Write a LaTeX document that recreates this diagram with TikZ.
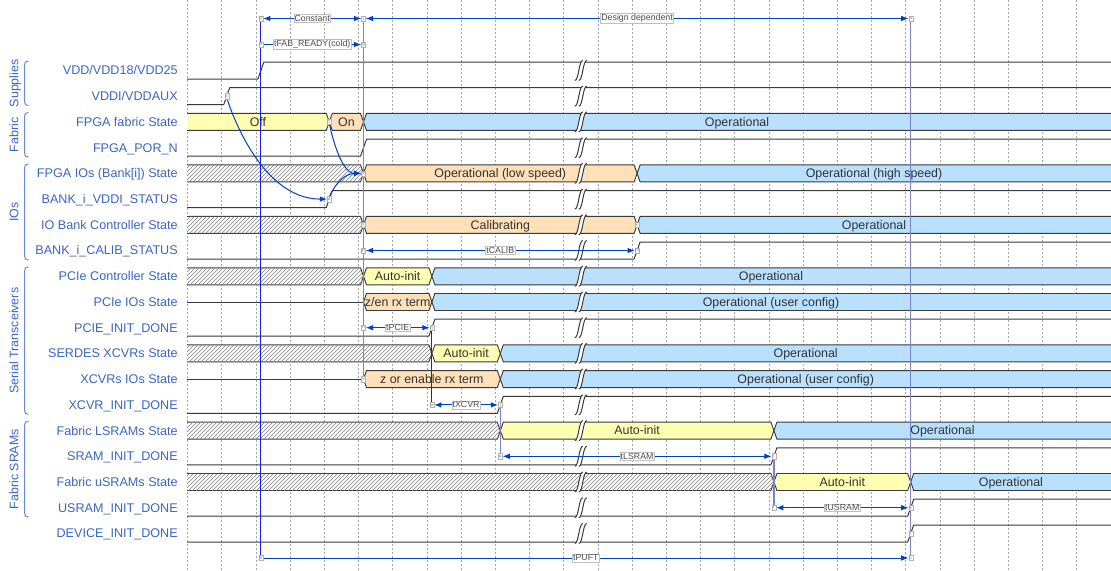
\documentclass[tikz,border=0pt]{standalone}
\usepackage{fontspec}
\setmainfont{Liberation Sans}
\usetikzlibrary{arrows.meta,patterns}
\definecolor{wdyel}{HTML}{FFFFB4}
\definecolor{wdorg}{HTML}{FFE0B9}
\definecolor{wdblu}{HTML}{B9E0FF}
\definecolor{wdline}{HTML}{3A3A3A}
\definecolor{lblblue}{HTML}{3A66C4}
\definecolor{edgeblue}{HTML}{0041C4}
\definecolor{vlav}{HTML}{7F80C6}
\definecolor{vblue}{HTML}{1A1AF0}
\pgfdeclarelayer{gridlayer}
\pgfdeclarelayer{wavelayer}
\pgfdeclarelayer{edgelayer}
\pgfsetlayers{gridlayer,wavelayer,edgelayer,main}
\newcommand\wdseg[4]{\path[#4] (#1,#3) -- (#1+3,#3-8.5) -- (#2-3,#3-8.5) -- (#2,#3) -- (#2-3,#3+8.5) -- (#1+3,#3+8.5) -- cycle;}
\newcommand\wdrise[2]{\draw[sig] (180,#2+8.5) -- (#1-3,#2+8.5) -- (#1+3,#2-8.5) -- (1120,#2-8.5);}
\newcommand\wdzline[2]{\draw[sig] (180,#2) -- (#1,#2);}
\newcommand\wdgap[1]{%
  \fill[white] (574.8,#1+10) .. controls (578.8,#1+10) and (578.8,#1-10) .. (582.8,#1-10) -- (586.8,#1-10) .. controls (582.8,#1-10) and (582.8,#1+10) .. (578.8,#1+10) -- cycle;
  \draw[sig] (574.8,#1+10) .. controls (578.8,#1+10) and (578.8,#1-10) .. (582.8,#1-10);
  \draw[sig] (578.8,#1+10) .. controls (582.8,#1+10) and (582.8,#1-10) .. (586.8,#1-10);}
\newcommand\wdtxt[4]{\node[btxt] (#1) at (#2,#3+4.3) {#4};}
\newcommand\wdlab[3]{\node[rlab] (#1) at (178,#2+4.4) {#3};}
\newcommand\wdgrp[4]{%
  \draw[brk] (28.5,#2) .. controls (26,#2) and (24.5,#2+1.5) .. (24.5,#2+4) -- (24.5,#3-4) .. controls (24.5,#3-1.5) and (26,#3) .. (28.5,#3);
  \node[glab] (#1) at (18.5,#2/2+#3/2) {#4};}
\begin{document}
\begin{tikzpicture}[x=0.75pt,y=-0.75pt,
  >={Latex[length=5.5pt,width=4.2pt]},
  sig/.style={draw=wdline,line width=0.75pt,line join=round},
  yb/.style={fill=wdyel,draw=wdline,line width=0.7pt},
  ob/.style={fill=wdorg,draw=wdline,line width=0.7pt},
  bb/.style={fill=wdblu,draw=wdline,line width=0.7pt},
  hb/.style={fill=white,postaction={pattern=north east lines,pattern color=black!50},draw=wdline,line width=0.7pt},
  btxt/.style={anchor=base,inner sep=0pt,text=black!80,font=\fontsize{9.3}{11}\selectfont},
  rlab/.style={anchor=base east,inner sep=0pt,text=lblblue,font=\fontsize{9.45}{11}\selectfont},
  glab/.style={anchor=base,rotate=90,inner sep=0pt,text=lblblue,font=\fontsize{9.3}{11}\selectfont},
  brk/.style={draw=lblblue!75,line width=0.75pt},
  gridl/.style={draw=black!35,line width=0.5pt,dash pattern=on 1.5pt off 1.5pt},
  mk/.style={draw=black!30,fill=white,line width=0.3pt,inner sep=0.2pt,minimum width=3pt,minimum height=4pt,text=black!55,font=\fontsize{3.2}{3.2}\selectfont},
  lab/.style={fill=white,draw=black!25,line width=0.3pt,inner sep=0.6pt,text=black!70,font=\fontsize{6.6}{7}\selectfont},
  edge/.style={draw=edgeblue,line width=0.75pt},
  vl/.style={draw=vlav,line width=0.9pt},
  vb/.style={draw=vblue,line width=0.75pt}]
\useasboundingbox (0,0) rectangle (1111,571);
\begin{pgfonlayer}{gridlayer}
\fill[white] (0,0) rectangle (1111,571);
\foreach \k in {0,...,26} \draw[gridl] ({187.5+34.2*\k},0) -- ({187.5+34.2*\k},571);
\end{pgfonlayer}
\begin{pgfonlayer}{wavelayer}
\begin{scope}
\clip (187,0) rectangle (1111,571);
% row 0 VDD
\wdrise{260.9}{70.5}
% row 1 VDDI
\wdrise{226.7}{96.2}
% row 2 fabric state
\wdseg{180}{329.3}{121.9}{yb}
\wdseg{329.3}{363.5}{121.9}{ob}
\wdseg{363.5}{1120}{121.9}{bb}
% row 3 POR
\wdrise{363.5}{147.7}
% row 4 FPGA IOs
\wdseg{180}{363.5}{173.4}{hb}
\wdseg{363.5}{637.1}{173.4}{ob}
\wdseg{637.1}{1120}{173.4}{bb}
% row 5 VDDI status
\wdrise{329.3}{199.1}
% row 6 IO bank
\wdseg{180}{363.5}{224.8}{hb}
\wdseg{363.5}{637.1}{224.8}{ob}
\wdseg{637.1}{1120}{224.8}{bb}
% row 7 calib status
\wdrise{637.1}{250.5}
% row 8 PCIe ctrl
\wdseg{180}{363.5}{276.3}{hb}
\wdseg{363.5}{431.9}{276.3}{yb}
\wdseg{431.9}{1120}{276.3}{bb}
% row 9 PCIe IOs
\wdzline{363.5}{302.0}
\wdseg{363.5}{431.9}{302.0}{ob}
\wdseg{431.9}{1120}{302.0}{bb}
% row 10 PCIE_INIT_DONE
\wdrise{431.9}{327.7}
% row 11 SERDES
\wdseg{180}{431.9}{353.4}{hb}
\wdseg{431.9}{500.3}{353.4}{yb}
\wdseg{500.3}{1120}{353.4}{bb}
% row 12 XCVR IOs
\wdzline{363.5}{379.1}
\wdseg{363.5}{500.3}{379.1}{ob}
\wdseg{500.3}{1120}{379.1}{bb}
% row 13 XCVR_INIT_DONE
\wdrise{500.3}{404.9}
% row 14 LSRAM
\wdseg{180}{500.3}{430.6}{hb}
\wdseg{500.3}{773.9}{430.6}{yb}
\wdseg{773.9}{1120}{430.6}{bb}
% row 15 SRAM_INIT_DONE
\wdrise{773.9}{456.3}
% row 16 uSRAM
\wdseg{180}{773.9}{482.0}{hb}
\wdseg{773.9}{910.7}{482.0}{yb}
\wdseg{910.7}{1120}{482.0}{bb}
% row 17, 18
\wdrise{910.7}{507.7}
\wdrise{910.7}{533.5}
% gaps
\foreach \yy in {70.5,96.2,121.9,147.7,173.4,199.1,224.8,250.5,276.3,302.0,327.7,353.4,379.1,404.9,430.6,456.3,482.0,507.7,533.5} {\wdgap{\yy}}
\end{scope}
\wdtxt{t2a}{258}{121.9}{Off}
\wdtxt{t2b}{346.4}{121.9}{On}
\wdtxt{t2c}{737}{121.9}{Operational}
\wdtxt{t4a}{500.3}{173.4}{Operational (low speed)}
\wdtxt{t4b}{874}{173.4}{Operational (high speed)}
\wdtxt{t6a}{500.3}{224.8}{Calibrating}
\wdtxt{t6b}{874}{224.8}{Operational}
\wdtxt{t8a}{397.7}{276.3}{Auto-init}
\wdtxt{t8b}{771}{276.3}{Operational}
\wdtxt{t9a}{397.7}{302.0}{z/en rx term}
\wdtxt{t9b}{771}{302.0}{Operational (user config)}
\wdtxt{t11a}{466.1}{353.4}{Auto-init}
\wdtxt{t11b}{805.7}{353.4}{Operational}
\wdtxt{t12a}{431.9}{379.1}{z or enable rx term}
\wdtxt{t12b}{805.7}{379.1}{Operational (user config)}
\wdtxt{t14a}{637.1}{430.6}{Auto-init}
\wdtxt{t14b}{942.5}{430.6}{Operational}
\wdtxt{t16a}{842.3}{482.0}{Auto-init}
\wdtxt{t16b}{1010.9}{482.0}{Operational}
\end{pgfonlayer}
% row labels
\wdlab{L0}{70.5}{VDD/VDD18/VDD25}
\wdlab{L1}{96.2}{VDDI/VDDAUX}
\wdlab{L2}{121.9}{FPGA fabric State}
\wdlab{L3}{147.7}{FPGA\_POR\_N}
\wdlab{L4}{173.4}{FPGA IOs (Bank[i]) State}
\wdlab{L5}{199.1}{BANK\_i\_VDDI\_STATUS}
\wdlab{L6}{224.8}{IO Bank Controller State}
\wdlab{L7}{250.5}{BANK\_i\_CALIB\_STATUS}
\wdlab{L8}{276.3}{PCIe Controller State}
\wdlab{L9}{302.0}{PCIe IOs State}
\wdlab{L10}{327.7}{PCIE\_INIT\_DONE}
\wdlab{L11}{353.4}{SERDES XCVRs State}
\wdlab{L12}{379.1}{XCVRs IOs State}
\wdlab{L13}{404.9}{XCVR\_INIT\_DONE}
\wdlab{L14}{430.6}{Fabric LSRAMs State}
\wdlab{L15}{456.3}{SRAM\_INIT\_DONE}
\wdlab{L16}{482.0}{Fabric uSRAMs State}
\wdlab{L17}{507.7}{USRAM\_INIT\_DONE}
\wdlab{L18}{533.5}{DEVICE\_INIT\_DONE}
% groups
\wdgrp{G1}{61}{105.7}{Supplies}
\wdgrp{G2}{112.4}{157.2}{Fabric}
\wdgrp{G3}{163.9}{260.0}{IOs}
\wdgrp{G4}{266.8}{414.4}{Serial Transceivers}
\wdgrp{G5}{421.1}{517.2}{Fabric SRAMs}
% marker nodes
\node[mk] (m0) at (260.9,18.5) {0};
\node[mk] (mi) at (363.5,18.5) {i};
\node[mk] (mu) at (910.7,18.5) {u};
\node[mk] (ma) at (260.9,44.5) {a};
\node[mk] (mg) at (363.5,44.5) {g};
\node[mk] (mx) at (226.7,96.2) {x};
\node[mk] (mf) at (329.3,121.9) {f};
\node[mk] (me) at (363.5,173.4) {e};
\node[mk] (md) at (329.3,199.1) {d};
\node[mk] (my) at (363.5,224.8) {y};
\node[mk] (mz) at (637.1,224.8) {z};
\node[mk] (mp) at (363.5,250.5) {p};
\node[mk] (mm) at (637.1,250.5) {m};
\node[mk] (mn) at (363.5,327.7) {n};
\node[mk] (mh) at (431.9,327.7) {h};
\node[mk] (ms) at (363.5,379.1) {s};
\node[mk] (mo) at (431.9,404.9) {o};
\node[mk] (mj) at (500.3,404.9) {j};
\node[mk] (mq) at (500.3,456.3) {q};
\node[mk] (ml) at (773.9,456.3) {l};
\node[mk] (mr) at (773.9,507.7) {r};
\node[mk] (mk) at (910.7,507.7) {k};
\node[mk] (mt) at (910.7,533.5) {t};
\node[mk] (mb) at (260.9,558) {b};
\node[mk] (mc) at (910.7,558) {c};
\begin{pgfonlayer}{edgelayer}
% vertical markers
\draw[vb] (m0) -- (mb);
\draw[vl] (mi) -- (ms);
\draw[vb] (mh) -- (mo);
\draw[vl] (mj) -- (mq);
\draw[vl] (ml) -- (mr);
\draw[vl] (mu) -- (mc);
% horizontal spans
\draw[edge,<->] (m0) -- node[lab] (lc) {Constant} (mi);
\draw[edge,<->] (mi) -- node[lab] (ld) {Design dependent} (mu);
\draw[edge,->] (ma) -- node[lab] (lf) {tFAB\_READY(cold)} (mg);
\draw[edge,<->] (mp) -- node[lab] (lca) {tCALIB} (mm);
\draw[edge,<->] (mn) -- node[lab] (lpc) {tPCIE} (mh);
\draw[edge,<->] (mo) -- node[lab] (lxc) {tXCVR} (mj);
\draw[edge,<->] (mq) -- node[lab] (lls) {tLSRAM} (ml);
\draw[edge,<->] (mr) -- node[lab] (lus) {tUSRAM} (mk);
\draw[edge,->] (mb) -- node[lab] (lpu) {tPUFT} (mc);
% curved dependencies
\draw[edge,->] (mx) .. controls +(0.5,3) and +(-71.8,0) .. (md);
\draw[edge,->] (mf) .. controls +(0.3,3) and +(-24,0) .. (me);
\draw[edge,->] (md) .. controls +(0.3,-3) and +(-24,0) .. (me);
\end{pgfonlayer}
\end{tikzpicture}
\end{document}
